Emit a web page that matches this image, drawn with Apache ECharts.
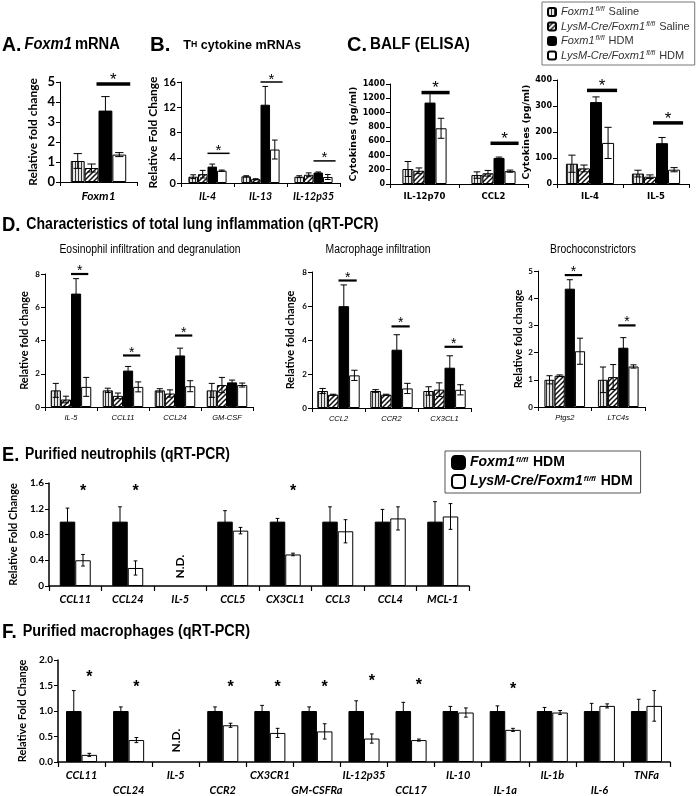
<!DOCTYPE html>
<html><head><meta charset="utf-8">
<script src="https://cdn.jsdelivr.net/npm/echarts@6/dist/echarts.min.js"></script>
<style>html,body{margin:0;padding:0;background:#fff}#c{width:700px;height:796px}</style>
</head><body><div id="c"></div>
<script>
// ================= DATA =================
const groupNames = ['Foxm1 Saline', 'LysM-Cre/Foxm1 Saline', 'Foxm1 HDM', 'LysM-Cre/Foxm1 HDM'];

// A. Foxm1 mRNA
const aCategories = ['Foxm1'];
const aSalineFl = [1.05],  aSalineFlErr = [0.37];
const aSalineCre = [0.7],  aSalineCreErr = [0.2];
const aHdmFl = [3.57],     aHdmFlErr = [0.7];
const aHdmCre = [1.37],    aHdmCreErr = [0.1];
const aSig = [4.9];

// B. TH cytokine mRNAs
const bCategories = ['IL-4', 'IL-13', 'IL-12p35'];
const bSalineFl = [1.0, 1.05, 1.0],  bSalineFlErr = [0.3, 0.1, 0.15];
const bSalineCre = [1.4, 0.6, 1.3],  bSalineCreErr = [0.6, 0.08, 0.3];
const bHdmFl = [2.6, 12.4, 1.65],    bHdmFlErr = [0.4, 2.9, 0.1];
const bHdmCre = [1.95, 5.3, 0.95],   bHdmCreErr = [0.1, 1.5, 0.4];
const bSig = [4.7, 16.0, 3.5];

// C. BALF (ELISA) left
const c1Categories = ['IL-12p70', 'CCL2'];
const c1SalineFl = [210, 125],  c1SalineFlErr = [105, 45];
const c1SalineCre = [185, 150], c1SalineCreErr = [40, 40];
const c1HdmFl = [1140, 365],    c1HdmFlErr = [140, 12];
const c1HdmCre = [780, 180],    c1HdmCreErr = [140, 15];
const c1Sig = [1280, 570];

// C. BALF (ELISA) right
const c2Categories = ['IL-4', 'IL-5'];
const c2SalineFl = [78, 40],   c2SalineFlErr = [33, 13];
const c2SalineCre = [60, 28],  c2SalineCreErr = [13, 7];
const c2HdmFl = [315, 157],    c2HdmFlErr = [20, 22];
const c2HdmCre = [158, 55],    c2HdmCreErr = [60, 8];
const c2Sig = [360, 235];

// D. Eosinophil infiltration and degranulation
const d1Categories = ['IL-5', 'CCL11', 'CCL24', 'GM-CSF'];
const d1SalineFl = [1.0, 1.0, 1.0, 1.0],     d1SalineFlErr = [0.42, 0.13, 0.1, 0.42];
const d1SalineCre = [0.45, 0.67, 0.81, 1.32], d1SalineCreErr = [0.2, 0.17, 0.22, 0.46];
const d1HdmFl = [6.82, 2.19, 3.1, 1.48],     d1HdmFlErr = [0.9, 0.25, 0.44, 0.14];
const d1HdmCre = [1.21, 1.21, 1.25, 1.32],   d1HdmCreErr = [0.57, 0.3, 0.33, 0.12];
const d1Sig = [8.0, 3.1, 4.3, null];

// D. Macrophage infiltration
const d2Categories = ['CCL2', 'CCR2', 'CX3CL1'];
const d2SalineFl = [1.0, 1.0, 1.0],     d2SalineFlErr = [0.15, 0.08, 0.25];
const d2SalineCre = [0.78, 0.78, 1.08], d2SalineCreErr = [0.03, 0.03, 0.4];
const d2HdmFl = [5.99, 3.43, 2.37],     d2HdmFlErr = [1.25, 0.88, 0.7];
const d2HdmCre = [1.92, 1.15, 1.07],    d2HdmCreErr = [0.3, 0.3, 0.3];
const d2Sig = [7.5, 4.8, 3.6];

// D. Brochoconstrictors
const d3Categories = ['Ptgs2', 'LTC4s'];
const d3SalineFl = [1.0, 1.0],   d3SalineFlErr = [0.15, 0.47];
const d3SalineCre = [1.15, 1.1], d3SalineCreErr = [0.03, 0.46];
const d3HdmFl = [4.35, 2.18],    d3HdmFlErr = [0.33, 0.37];
const d3HdmCre = [2.05, 1.49],   d3HdmCreErr = [0.48, 0.06];
const d3Sig = [4.85, 3.0];

// E. Purified neutrophils
const eCategories = ['CCL11', 'CCL24', 'IL-5', 'CCL5', 'CX3CL1', 'CCL3', 'CCL4', 'MCL-1'];
const eHdmFl = [1, 1, null, 1, 1, 1, 1, 1];
const eHdmFlErr = [0.21, 0.23, null, 0.17, 0.05, 0.23, 0.19, 0.31];
const eHdmCre = [0.4, 0.28, null, 0.86, 0.49, 0.85, 1.05, 1.08];
const eHdmCreErr = [0.09, 0.11, null, 0.05, 0.02, 0.18, 0.18, 0.2];
const eStars = [1.47, 1.47, null, null, 1.47, null, null, null];
const eND = [[2, 0.3]];

// F. Purified macrophages
const fCategories = ['CCL11', 'CCL24', 'IL-5', 'CCR2', 'CX3CR1', 'GM-CSFRa', 'IL-12p35', 'CCL17', 'IL-10', 'IL-1a', 'IL-1b', 'IL-6', 'TNFa'];
const fHdmFl = [1, 1, null, 1, 1, 1, 1, 1, 1, 1, 1, 1, 1];
const fHdmFlErr = [0.4, 0.08, null, 0.08, 0.11, 0.08, 0.2, 0.17, 0.09, 0.1, 0.07, 0.15, 0.23];
const fHdmCre = [0.14, 0.43, null, 0.72, 0.57, 0.6, 0.46, 0.43, 0.97, 0.63, 0.97, 1.1, 1.1];
const fHdmCreErr = [0.03, 0.05, null, 0.04, 0.09, 0.15, 0.09, 0.02, 0.09, 0.03, 0.04, 0.04, 0.3];
const fStars = [1.65, 1.45, null, 1.46, 1.46, 1.46, 1.58, 1.5, null, 1.42, null, null, null];
const fND = [[2, 0.42]];

// ================= STYLE HELPERS =================
function stripePattern() {
  const c = document.createElement('canvas'); c.width = 3; c.height = 3;
  const g = c.getContext('2d');
  g.fillStyle = '#e4e4e4'; g.fillRect(0, 0, 3, 3);
  g.fillStyle = '#333'; g.fillRect(0, 0, 1, 3);
  return c;
}
function hatchPattern() {
  const s = 5; const c = document.createElement('canvas'); c.width = s; c.height = s;
  const g = c.getContext('2d');
  g.fillStyle = '#fff'; g.fillRect(0, 0, s, s);
  g.strokeStyle = '#111'; g.lineWidth = 1.5;
  g.beginPath();
  g.moveTo(0, s); g.lineTo(s, 0);
  g.moveTo(-1, 1); g.lineTo(1, -1);
  g.moveTo(s - 1, s + 1); g.lineTo(s + 1, s - 1);
  g.stroke();
  return c;
}
const fills = [
  { image: stripePattern(), repeat: 'repeat' },
  { image: hatchPattern(), repeat: 'repeat' },
  '#000',
  '#fff'
];

const SANS = 'Liberation Sans';
const CAL = 'Lato';
const VERD = 'DejaVu Sans';

function errRender(n, gap, capFrac) {
  return function (params, api) {
    const ci = api.value(0), v = api.value(1), e = api.value(2), si = api.value(3);
    const band = api.size([1, 0])[0];
    const gw = band * (1 - gap), bw = gw / n;
    const c = api.coord([ci, v]);
    const x = c[0] - gw / 2 + (si + 0.5) * bw;
    const yt = api.coord([ci, v + e])[1], yb = api.coord([ci, Math.max(0, v - e)])[1];
    const cap = bw * capFrac;
    const st = { stroke: '#000', lineWidth: 1 };
    return { type: 'group', children: [
      { type: 'line', shape: { x1: x, y1: yt, x2: x, y2: yb }, style: st },
      { type: 'line', shape: { x1: x - cap, y1: yt, x2: x + cap, y2: yt }, style: st },
      { type: 'line', shape: { x1: x - cap, y1: yb, x2: x + cap, y2: yb }, style: st }
    ] };
  };
}
function sigRender(n, gap, lw, fs, extL, extR) {
  return function (params, api) {
    const ci = api.value(0), yv = api.value(1);
    const band = api.size([1, 0])[0];
    const gw = band * (1 - gap), bw = gw / n;
    const c = api.coord([ci, yv]);
    const x0 = c[0] - gw / 2 + 2 * bw - extL, x1 = c[0] - gw / 2 + 4 * bw + extR;
    return { type: 'group', children: [
      { type: 'line', shape: { x1: x0, y1: c[1], x2: x1, y2: c[1] }, style: { stroke: '#000', lineWidth: lw } },
      { type: 'text', style: { text: '*', x: (x0 + x1) / 2, y: c[1] - lw / 2 - fs * 0.12, align: 'center', verticalAlign: 'middle', fontSize: fs, fontFamily: SANS, fill: '#000' } }
    ] };
  };
}
function starRender(n, gap, fs, barIdx) {
  return function (params, api) {
    const ci = api.value(0), yv = api.value(1);
    const band = api.size([1, 0])[0];
    const gw = band * (1 - gap), bw = gw / n;
    const c = api.coord([ci, yv]);
    const x = c[0] - gw / 2 + (barIdx + 0.5) * bw;
    return { type: 'text', style: { text: '*', x: x, y: c[1], align: 'center', verticalAlign: 'middle', fontSize: fs, fontFamily: SANS, fontWeight: 'bold', fill: '#000' } };
  };
}
function ndRender(fs) {
  return function (params, api) {
    const c = api.coord([api.value(0), api.value(1)]);
    return { type: 'text', x: c[0], y: c[1], rotation: Math.PI / 2,
      style: { text: 'N.D.', x: 0, y: 0, align: 'center', verticalAlign: 'middle', fontSize: fs, fontWeight: 'bold', fontFamily: CAL, fill: '#000' } };
  };
}

// ================= PANELS =================
const panels = [
  { cats: aCategories, vals: [aSalineFl, aSalineCre, aHdmFl, aHdmCre], errs: [aSalineFlErr, aSalineCreErr, aHdmFlErr, aHdmCreErr], sig: aSig,
    grid: { left: 60, top: 82, width: 77, height: 100 }, max: 5, interval: 1, gap: 0.28,
    yLabel: { fontFamily: CAL, fontWeight: 'bold', fontSize: 13 }, yName: 'Relative fold change', nameGap: 21, nameFont: { fontFamily: CAL, fontWeight: 'bold', fontSize: 12 },
    xLabel: { fontFamily: CAL, fontWeight: 'bold', fontStyle: 'italic', fontSize: 12, margin: 8 }, sigLw: 3.5, sigFs: 17, ext: [2, 4] },
  { cats: bCategories, vals: [bSalineFl, bSalineCre, bHdmFl, bHdmCre], errs: [bSalineFlErr, bSalineCreErr, bHdmFlErr, bHdmCreErr], sig: bSig,
    grid: { left: 181, top: 82, width: 159, height: 101 }, max: 16, interval: 4, gap: 0.28,
    yLabel: { fontFamily: CAL, fontWeight: 'bold', fontSize: 11 }, yName: 'Relative Fold Change', nameGap: 19, nameFont: { fontFamily: CAL, fontWeight: 'bold', fontSize: 12 },
    xLabel: { fontFamily: CAL, fontWeight: 'bold', fontStyle: 'italic', fontSize: 10.5, margin: 8 }, sigLw: 1.5, sigFs: 15, ext: [0, 3] },
  { cats: c1Categories, vals: [c1SalineFl, c1SalineCre, c1HdmFl, c1HdmCre], errs: [c1SalineFlErr, c1SalineCreErr, c1HdmFlErr, c1HdmCreErr], sig: c1Sig,
    grid: { left: 390, top: 84, width: 138, height: 100 }, max: 1400, interval: 200, gap: 0.36,
    yLabel: { fontFamily: VERD, fontWeight: 'bold', fontSize: 8, formatter: v => String(v) }, yName: 'Cytokines (pg/ml)', nameGap: 29, nameFont: { fontFamily: VERD, fontWeight: 'bold', fontSize: 9.5 },
    xLabel: { fontFamily: VERD, fontWeight: 'bold', fontSize: 8.5, margin: 8 }, sigLw: 3.5, sigFs: 17, ext: [3, 3] },
  { cats: c2Categories, vals: [c2SalineFl, c2SalineCre, c2HdmFl, c2HdmCre], errs: [c2SalineFlErr, c2SalineCreErr, c2HdmFlErr, c2HdmCreErr], sig: c2Sig,
    grid: { left: 557, top: 80, width: 132, height: 104 }, max: 400, interval: 100, gap: 0.27,
    yLabel: { fontFamily: VERD, fontWeight: 'bold', fontSize: 8, formatter: v => String(v) }, yName: 'Cytokines (pg/ml)', nameGap: 24, nameFont: { fontFamily: VERD, fontWeight: 'bold', fontSize: 9.5 },
    xLabel: { fontFamily: VERD, fontWeight: 'bold', fontSize: 8.5, margin: 8 }, sigLw: 3.5, sigFs: 17, ext: [3, 3] },
  { cats: d1Categories, vals: [d1SalineFl, d1SalineCre, d1HdmFl, d1HdmCre], errs: [d1SalineFlErr, d1SalineCreErr, d1HdmFlErr, d1HdmCreErr], sig: d1Sig,
    grid: { left: 45, top: 274, width: 208, height: 133 }, max: 8, interval: 2, gap: 0.22,
    yLabel: { fontFamily: CAL, fontWeight: 'bold', fontSize: 8 }, yName: 'Relative fold change', nameGap: 15, nameFont: { fontFamily: CAL, fontWeight: 'bold', fontSize: 11 },
    xLabel: { fontFamily: SANS, fontStyle: 'italic', fontSize: 7.5, margin: 7 }, sigLw: 2.2, sigFs: 14, ext: [0, -3] },
  { cats: d2Categories, vals: [d2SalineFl, d2SalineCre, d2HdmFl, d2HdmCre], errs: [d2SalineFlErr, d2SalineCreErr, d2HdmFlErr, d2HdmCreErr], sig: d2Sig,
    grid: { left: 312, top: 272, width: 159, height: 136 }, max: 8, interval: 2, gap: 0.2,
    yLabel: { fontFamily: CAL, fontWeight: 'bold', fontSize: 8 }, yName: 'Relative fold change', nameGap: 16, nameFont: { fontFamily: CAL, fontWeight: 'bold', fontSize: 11 },
    xLabel: { fontFamily: SANS, fontStyle: 'italic', fontSize: 7.5, margin: 7 }, sigLw: 2.2, sigFs: 14, ext: [0, -3] },
  { cats: d3Categories, vals: [d3SalineFl, d3SalineCre, d3HdmFl, d3HdmCre], errs: [d3SalineFlErr, d3SalineCreErr, d3HdmFlErr, d3HdmCreErr], sig: d3Sig,
    grid: { left: 538, top: 271, width: 107, height: 136 }, max: 5, interval: 1, gap: 0.24,
    yLabel: { fontFamily: CAL, fontWeight: 'bold', fontSize: 8 }, yName: 'Relative fold change', nameGap: 14, nameFont: { fontFamily: CAL, fontWeight: 'bold', fontSize: 11 },
    xLabel: { fontFamily: SANS, fontStyle: 'italic', fontSize: 7.5, margin: 7 }, sigLw: 2.2, sigFs: 14, ext: [0, -3] }
];

const hdmPanels = [
  { cats: eCategories, vals: [eHdmFl, eHdmCre], errs: [eHdmFlErr, eHdmCreErr], stars: eStars, nd: eND,
    grid: { left: 49, top: 483, width: 420, height: 103 }, max: 1.6, interval: 0.4, gap: 0.41,
    fmt: v => v === 0 ? '0' : v.toFixed(1), nameGap: 27, stagger: false },
  { cats: fCategories, vals: [fHdmFl, fHdmCre], errs: [fHdmFlErr, fHdmCreErr], stars: fStars, nd: fND,
    grid: { left: 58, top: 660, width: 612, height: 108 }, max: 2, interval: 0.5, gap: 0.34,
    fmt: v => v.toFixed(1), nameGap: 24, stagger: true }
];

// ================= BUILD OPTION =================
const grids = [], xAxes = [], yAxes = [], series = [];
const axisLineStyle = { show: true, lineStyle: { color: '#000', width: 1 } };

panels.forEach((p, gi) => {
  grids.push(Object.assign({ containLabel: false }, p.grid));
  xAxes.push({ type: 'category', gridIndex: gi, data: p.cats, boundaryGap: true,
    axisLine: axisLineStyle, axisTick: { show: true, interval: 0, length: 4, lineStyle: { color: '#000' } },
    axisLabel: Object.assign({ interval: 0, color: '#000' }, p.xLabel) });
  yAxes.push({ type: 'value', gridIndex: gi, min: 0, max: p.max, interval: p.interval,
    axisLine: axisLineStyle, axisTick: { show: true, length: 4, lineStyle: { color: '#000' } }, splitLine: { show: false },
    axisLabel: Object.assign({ color: '#000', margin: 5 }, p.yLabel),
    name: p.yName, nameLocation: 'middle', nameRotate: 90, nameGap: p.nameGap,
    nameTextStyle: Object.assign({ color: '#000' }, p.nameFont) });
  p.vals.forEach((arr, si) => {
    series.push({ type: 'bar', name: groupNames[si], xAxisIndex: gi, yAxisIndex: gi, data: arr,
      barGap: '0%', barCategoryGap: (p.gap * 100) + '%',
      itemStyle: { color: fills[si], borderColor: '#000', borderWidth: 1 }, emphasis: { disabled: true } });
  });
  const errData = [];
  p.vals.forEach((arr, si) => arr.forEach((v, ci) => { if (v != null) errData.push([ci, v, p.errs[si][ci], si]); }));
  series.push({ type: 'custom', xAxisIndex: gi, yAxisIndex: gi, data: errData, renderItem: errRender(4, p.gap, 0.3), z: 5, silent: true });
  const sigData = [];
  p.sig.forEach((v, ci) => { if (v != null) sigData.push([ci, v]); });
  series.push({ type: 'custom', xAxisIndex: gi, yAxisIndex: gi, data: sigData, renderItem: sigRender(4, p.gap, p.sigLw, p.sigFs, p.ext[0], p.ext[1]), z: 6, silent: true });
});

hdmPanels.forEach((p, k) => {
  const gi = panels.length + k;
  grids.push(Object.assign({ containLabel: false }, p.grid));
  xAxes.push({ type: 'category', gridIndex: gi, data: p.cats, boundaryGap: true,
    axisLine: { show: true, lineStyle: { color: '#000', width: 1.5 } }, axisTick: { show: true, interval: 0, length: 5, lineStyle: { color: '#000', width: 1.2 } },
    axisLabel: { interval: 0, color: '#000', margin: 8,
      formatter: (v, i) => (p.stagger && i % 2 === 1) ? '{b|' + v + '}' : '{a|' + v + '}',
      rich: {
        a: { fontFamily: CAL, fontWeight: 'bold', fontStyle: 'italic', fontSize: 11, color: '#000' },
        b: { fontFamily: CAL, fontWeight: 'bold', fontStyle: 'italic', fontSize: 11, color: '#000', padding: [15, 0, 0, 0] }
      } } });
  yAxes.push({ type: 'value', gridIndex: gi, min: 0, max: p.max, interval: p.interval,
    axisLine: { show: true, lineStyle: { color: '#000', width: 1.5 } }, axisTick: { show: true, length: 4, lineStyle: { color: '#000' } }, splitLine: { show: false },
    axisLabel: { color: '#000', fontFamily: CAL, fontWeight: 'bold', fontSize: 10, margin: 5, formatter: p.fmt },
    name: 'Relative Fold Change', nameLocation: 'middle', nameRotate: 90, nameGap: p.nameGap,
    nameTextStyle: { color: '#000', fontFamily: CAL, fontWeight: 'bold', fontSize: 11 } });
  p.vals.forEach((arr, si) => {
    series.push({ type: 'bar', name: groupNames[si + 2], xAxisIndex: gi, yAxisIndex: gi, data: arr,
      barGap: '0%', barCategoryGap: (p.gap * 100) + '%',
      itemStyle: { color: fills[si + 2], borderColor: '#000', borderWidth: 1 }, emphasis: { disabled: true } });
  });
  const errData = [];
  p.vals.forEach((arr, si) => arr.forEach((v, ci) => { if (v != null) errData.push([ci, v, p.errs[si][ci], si]); }));
  series.push({ type: 'custom', xAxisIndex: gi, yAxisIndex: gi, data: errData, renderItem: errRender(2, p.gap, 0.12), z: 5, silent: true });
  const starData = [];
  p.stars.forEach((v, ci) => { if (v != null) starData.push([ci, v]); });
  series.push({ type: 'custom', xAxisIndex: gi, yAxisIndex: gi, data: starData, renderItem: starRender(2, p.gap, 16, 1), z: 6, silent: true });
  series.push({ type: 'custom', xAxisIndex: gi, yAxisIndex: gi, data: p.nd, renderItem: ndRender(12), z: 6, silent: true });
});

function legendFmt(name) {
  const parts = name.split(' ');
  return '{i|' + parts[0] + '}{s|fl/fl}{n| ' + parts[1] + '}';
}

const titleRich = {
  L: { fontFamily: SANS, fontWeight: 'bold', fontSize: 21, fill: '#000' },
  T: { fontFamily: SANS, fontWeight: 'bold', fontSize: 16, fill: '#000' },
  TI: { fontFamily: SANS, fontWeight: 'bold', fontStyle: 'italic', fontSize: 16, fill: '#000' },
  th: { fontFamily: SANS, fontWeight: 'bold', fontSize: 13, fill: '#000' },
  thS: { fontFamily: SANS, fontWeight: 'bold', fontSize: 9, fill: '#000' },
  S: { fontFamily: SANS, fontWeight: 'normal', fontSize: 12.5, fill: '#000' }
};
function gtext(text, x, y, sx, align) {
  return { type: 'text', x: x, y: y, scaleX: sx, silent: true,
    style: { text: text, rich: titleRich, x: 0, y: 0, align: align || 'left', verticalAlign: 'middle' } };
}

const option = {
  animation: false,
  backgroundColor: '#fff',
  graphic: [
    gtext('{L|A.} {TI|Foxm1} {T|mRNA}', 2, 45, 0.92),
    gtext('{L|B.}    {th|T}{thS|H}{th| cytokine mRNAs}', 150, 45, 0.97),
    gtext('{L|C.} {T|BALF (ELISA)}', 347, 45, 0.95),
    gtext('{L|D.}  {T|Characteristics of total lung inflammation (qRT-PCR)}', 2, 225, 0.88),
    gtext('{S|Eosinophil infiltration and degranulation}', 150, 250, 0.83, 'center'),
    gtext('{S|Macrophage infiltration}', 378, 250, 0.83, 'center'),
    gtext('{S|Brochoconstrictors}', 593, 250, 0.83, 'center'),
    gtext('{L|E.}  {T|Purified neutrophils (qRT-PCR)}', 2, 455, 0.87),
    gtext('{L|F.}  {T|Purified macrophages (qRT-PCR)}', 2, 632, 0.9)
  ],
  legend: [
    { data: groupNames, left: 542, top: 2, orient: 'vertical', itemWidth: 8, itemHeight: 8, itemGap: 3,
      borderColor: '#777', borderWidth: 1, padding: [4, 5, 4, 5], selectedMode: false,
      formatter: legendFmt,
      textStyle: { rich: {
        i: { fontFamily: SANS, fontStyle: 'italic', fontSize: 11, color: '#333' },
        s: { fontFamily: SANS, fontStyle: 'italic', fontSize: 7, color: '#333', verticalAlign: 'top', padding: [0, 1, 5, 1] },
        n: { fontFamily: SANS, fontSize: 11, color: '#333' } } } },
    { data: [groupNames[2], groupNames[3]], left: 445, top: 451, orient: 'vertical', itemWidth: 13, itemHeight: 13, itemGap: 4,
      borderColor: '#555', borderWidth: 1, padding: [4, 8, 4, 6], selectedMode: false,
      formatter: legendFmt,
      textStyle: { rich: {
        i: { fontFamily: SANS, fontStyle: 'italic', fontWeight: 'bold', fontSize: 14, color: '#000' },
        s: { fontFamily: SANS, fontStyle: 'italic', fontWeight: 'bold', fontSize: 8, color: '#000', verticalAlign: 'top', padding: [0, 1, 6, 1] },
        n: { fontFamily: SANS, fontWeight: 'bold', fontSize: 14, color: '#000' } } } }
  ],
  grid: grids, xAxis: xAxes, yAxis: yAxes, series: series
};

const chart = echarts.init(document.getElementById('c'), null, { renderer: 'canvas' });
chart.setOption(option);
</script>
</body></html>
